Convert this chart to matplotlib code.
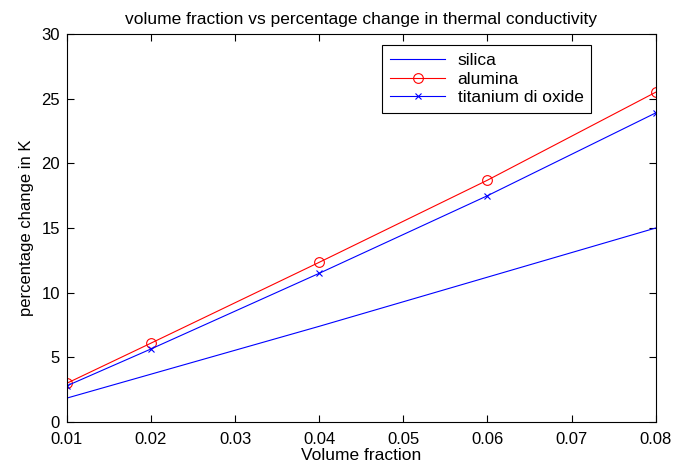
import matplotlib.pyplot as plt

plt.rcParams['font.family'] = ['Liberation Sans', 'DejaVu Sans']

vol = [0.01, 0.02, 0.04, 0.06, 0.08]
silica = [1.85, 3.7, 7.4, 11.2, 15.0]
alumina = [3.0, 6.1, 12.35, 18.7, 25.5]
titania = [2.8, 5.65, 11.5, 17.5, 23.9]

fig = plt.figure(figsize=(6.76, 4.66), dpi=100)
ax = fig.add_axes([0.099, 0.0944, 0.871, 0.8326])

ax.plot(vol, silica, color='blue', lw=0.8, label='silica')
ax.plot(vol, alumina, color='red', lw=0.8, marker='o', ms=7, mfc='none',
        mew=0.8, label='alumina')
ax.plot(vol, titania, color='blue', lw=0.8, marker='x', ms=5, mew=0.8,
        label='titanium di oxide')

ax.set_xlim(0.01, 0.08)
ax.set_ylim(0, 30)
ax.set_xticks([0.01, 0.02, 0.03, 0.04, 0.05, 0.06, 0.07, 0.08])
ax.set_xticklabels(['0.01', '0.02', '0.03', '0.04', '0.05', '0.06', '0.07', '0.08'])
ax.set_yticks(range(0, 31, 5))
ax.tick_params(direction='in', top=True, right=True, labelsize=12, length=5)
ax.tick_params(axis='x', pad=7)
ax.tick_params(axis='y', pad=5)
for s in ax.spines.values():
    s.set_linewidth(0.8)

ax.set_xlabel('Volume fraction', fontsize=12.5, labelpad=1)
ax.set_ylabel('percentage change in K', fontsize=12, labelpad=5)
ax.set_title('volume fraction vs percentage change in thermal conductivity',
             fontsize=12.5, pad=7)

leg = ax.legend(loc='upper left', bbox_to_anchor=(382 / 676, 1 - 45 / 466),
                bbox_transform=fig.transFigure, fontsize=12.5, fancybox=False,
                framealpha=1, edgecolor='black', borderpad=0.45,
                borderaxespad=0, labelspacing=0.2, handlelength=3.2,
                handletextpad=0.7)
leg.get_frame().set_linewidth(0.8)

fig.savefig('out.png', dpi=100)
